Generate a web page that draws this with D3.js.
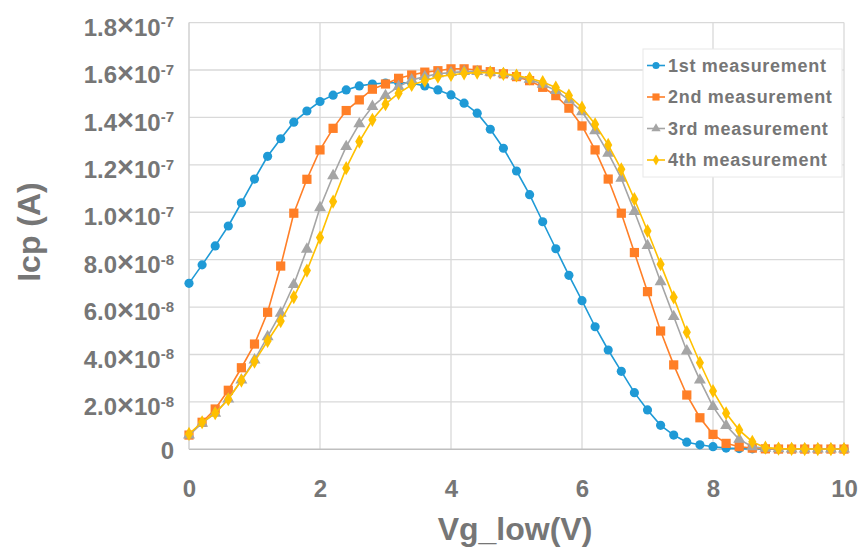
<!DOCTYPE html>
<html><head><meta charset="utf-8">
<script src="https://cdn.jsdelivr.net/npm/d3@7"></script>
<style>body{margin:0;background:#fff}svg{display:block}</style>
</head><body><svg id="c" width="861" height="549"></svg>
<script>
const xValues = d3.range(51).map(i => +(i*0.2).toFixed(1));
// values in units of 1e-8 A
const s1 = [7.0,7.78,8.58,9.42,10.4,11.4,12.36,13.1,13.8,14.27,14.67,14.94,15.16,15.33,15.41,15.45,15.47,15.44,15.33,15.16,14.95,14.6,14.18,13.5,12.7,11.74,10.74,9.6,8.46,7.34,6.27,5.17,4.19,3.29,2.39,1.66,1.01,0.6,0.3,0.19,0.11,0.05,0.03,0.02,0.02,0.01,0.01,0.01,0.01,0.01,0.01];
const s2 = [0.6,1.14,1.7,2.49,3.44,4.44,5.78,7.73,9.96,11.39,12.63,13.54,14.29,14.74,15.19,15.41,15.65,15.79,15.91,15.97,16.05,16.05,16.0,15.93,15.84,15.72,15.55,15.27,14.92,14.39,13.64,12.63,11.4,9.96,8.3,6.65,4.99,3.56,2.29,1.33,0.63,0.25,0.11,0.05,0.02,0.01,0.01,0.01,0.01,0.01,0.01];
const s3 = [0.6,1.1,1.52,2.12,2.92,3.77,4.75,5.74,6.95,8.44,10.19,11.54,12.77,13.73,14.46,14.92,15.3,15.58,15.72,15.84,15.89,15.93,15.93,15.9,15.84,15.74,15.61,15.4,15.13,14.74,14.24,13.44,12.49,11.43,10.03,8.59,7.07,5.6,4.15,2.92,1.8,1.0,0.42,0.11,0.04,0.02,0.01,0.01,0.01,0.01,0.01];
const s4 = [0.65,1.14,1.52,2.11,2.9,3.7,4.57,5.41,6.42,7.54,8.93,10.45,11.86,12.98,13.9,14.56,15.02,15.37,15.55,15.72,15.79,15.86,15.89,15.89,15.84,15.77,15.65,15.49,15.26,14.92,14.41,13.71,12.84,11.81,10.55,9.21,7.81,6.41,4.94,3.65,2.46,1.52,0.81,0.32,0.07,0.03,0.02,0.01,0.01,0.01,0.01];
const seriesNames = ["1st measurement","2nd measurement","3rd measurement","4th measurement"];
const seriesColors = ["#1f9ad6","#ff7f27","#a5a5a5","#ffc000"];
const seriesSymbols = ["circle","square","triangle","diamond"];
const xTicks = [0,2,4,6,8,10];
const yTicks = [0,2,4,6,8,10,12,14,16,18]; // x1e-8
const yTickLabels = ["0",["2.0","-8"],["4.0","-8"],["6.0","-8"],["8.0","-8"],["1.0","-7"],["1.2","-7"],["1.4","-7"],["1.6","-7"],["1.8","-7"]];
const xTitle = "Vg_low(V)", yTitle = "Icp (A)";

const svg = d3.select("#c");
const font = "'Liberation Sans', Arial, sans-serif";
const txtCol = "#767676";
const x = d3.scaleLinear().domain([0,10]).range([189,844]);
const y = d3.scaleLinear().domain([0,18]).range([449.3,22.6]);

// gridlines
const g = svg.append("g");
g.selectAll("line.h").data(yTicks.slice(1)).join("line")
  .attr("x1",x(0)).attr("x2",x(10)).attr("y1",d=>y(d)).attr("y2",d=>y(d))
  .attr("stroke","#d9d9d9").attr("stroke-width",1.3);
g.selectAll("line.v").data(xTicks.slice(1)).join("line")
  .attr("x1",d=>x(d)).attr("x2",d=>x(d)).attr("y1",y(0)).attr("y2",y(18))
  .attr("stroke","#d9d9d9").attr("stroke-width",1.3);
// axes lines
svg.append("line").attr("x1",x(0)).attr("x2",x(10)).attr("y1",y(0)).attr("y2",y(0)).attr("stroke","#bfbfbf").attr("stroke-width",1.5);
svg.append("line").attr("x1",x(0)).attr("x2",x(0)).attr("y1",y(0)).attr("y2",y(18)).attr("stroke","#d0d0d0").attr("stroke-width",1.5);

// x axis labels
const xa = svg.append("g").attr("transform",`translate(0,${y(0)})`)
  .call(d3.axisBottom(x).tickValues(xTicks).tickSize(0).tickFormat(d3.format("d")));
xa.select(".domain").remove();
xa.selectAll("text").attr("y",47.5).attr("dy",0).attr("font-family",font).attr("font-weight","bold").attr("font-size",24).attr("fill",txtCol);

// y axis labels
const ya = svg.append("g").attr("transform",`translate(${x(0)},0)`)
  .call(d3.axisLeft(y).tickValues(yTicks).tickSize(0).tickPadding(15).tickFormat(()=>""));
ya.select(".domain").remove();
ya.selectAll(".tick text").each(function(d,i){
  const t = d3.select(this).attr("font-family",font).attr("font-weight","bold").attr("font-size",24).attr("fill",txtCol);
  const lab = yTickLabels[i];
  if (typeof lab === "string") { t.attr("dy","0.4em").text(lab); }
  else {
    t.attr("dy","0.53em");
    t.append("tspan").text(lab[0]);
    t.append("tspan").attr("font-size",29).attr("dy","-0.02em").text("\u00d7");
    t.append("tspan").attr("dy","0.02em").text("10");
    t.append("tspan").attr("font-size",15).attr("dy","-0.55em").text(lab[1]);
  }
});

// series
const allSeries = [s1,s2,s3,s4];
const symMap = {circle:d3.symbolCircle, square:d3.symbolSquare, triangle:d3.symbolTriangle, diamond:d3.symbolDiamond};
const symSize = {circle:66, square:85, triangle:62, diamond:58};
const line = d3.line().x((d,i)=>x(xValues[i])).y(d=>y(d));
allSeries.forEach((vals,k)=>{
  const sg = svg.append("g");
  sg.append("path").attr("d",line(vals)).attr("fill","none").attr("stroke",seriesColors[k]).attr("stroke-width",1.6);
  sg.selectAll("path.m").data(vals).join("path").attr("class","m")
    .attr("transform",(d,i)=>`translate(${x(xValues[i])},${y(d)})`)
    .attr("d",d3.symbol().type(symMap[seriesSymbols[k]]).size(symSize[seriesSymbols[k]]))
    .attr("fill",seriesColors[k]);
});

// legend
const lg = svg.append("g");
lg.append("rect").attr("x",643).attr("y",49).attr("width",199).attr("height",128).attr("fill","#fff").attr("stroke","#e8e8e8");
seriesNames.forEach((n,k)=>{
  const yy = 65.5 + k*31.5;
  lg.append("line").attr("x1",647).attr("x2",665).attr("y1",yy).attr("y2",yy).attr("stroke",seriesColors[k]).attr("stroke-width",1.6);
  lg.append("path").attr("transform",`translate(656,${yy})`)
    .attr("d",d3.symbol().type(symMap[seriesSymbols[k]]).size(symSize[seriesSymbols[k]]*0.6)).attr("fill",seriesColors[k]);
  lg.append("text").attr("x",668).attr("y",yy).attr("dy","0.36em").text(n)
    .attr("font-family",font).attr("font-weight","bold").attr("font-size",18).attr("letter-spacing",0.7).attr("fill",txtCol);
});

// titles
svg.append("text").attr("x",515).attr("y",540).attr("text-anchor","middle").text(xTitle)
  .attr("font-family",font).attr("font-weight","bold").attr("font-size",32).attr("fill",txtCol);
svg.append("text").attr("transform","translate(40,232) rotate(-90)").attr("text-anchor","middle").text(yTitle)
  .attr("font-family",font).attr("font-weight","bold").attr("font-size",32).attr("fill",txtCol);
</script></body></html>
